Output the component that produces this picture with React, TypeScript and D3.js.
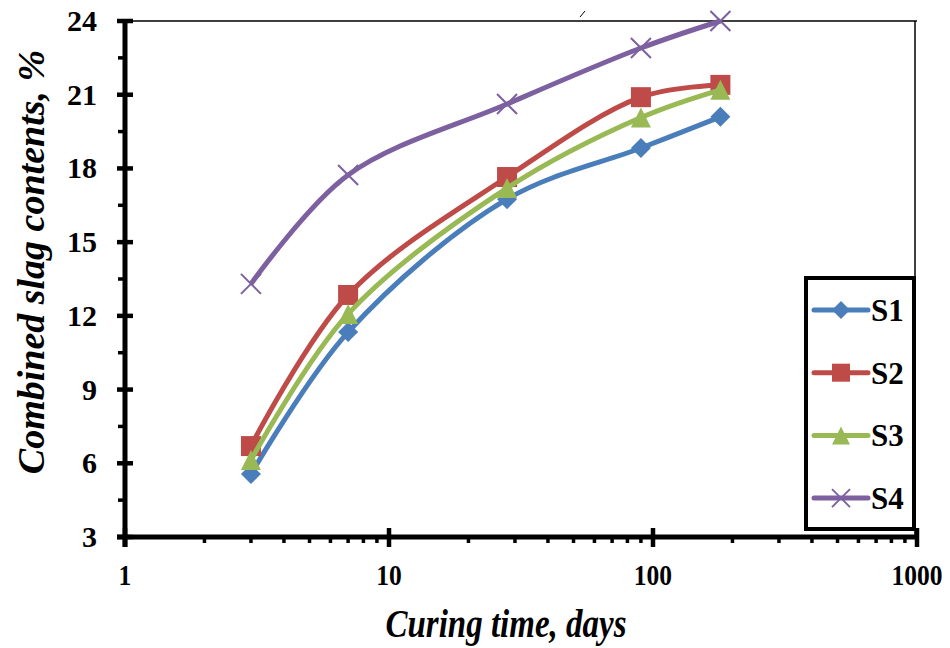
import React from "react";
import * as d3 from "d3";

const days = [3, 7, 28, 90, 180];
const s1 = [5.56, 11.34, 16.75, 18.83, 20.1];
const s2 = [6.7, 12.85, 17.65, 20.9, 21.4];
const s3 = [6.13, 12.08, 17.2, 20.07, 21.2];
const s4 = [13.3, 17.73, 20.62, 22.9, 24.0];
const seriesNames = ["S1", "S2", "S3", "S4"];
const seriesColors = ["#4A7EBB", "#BE4B48", "#98B954", "#7D60A0"];
const seriesShapes = ["diamond", "square", "triangle", "x"];
const yTicks = [3, 6, 9, 12, 15, 18, 21, 24];
const xTicks = [1, 10, 100, 1000];

const W = 950;
const H = 648;
const L = 125, R = 917, T = 21, B = 537;
const FONT = "'Times New Roman', 'Liberation Serif', serif";

function Marker({ shape, x, y, color, s = 10 }: { shape: string; x: number; y: number; color: string; s?: number }) {
  if (shape === "diamond") {
    return <path d={`M${x},${y - s}L${x + s},${y}L${x},${y + s}L${x - s},${y}Z`} fill={color} />;
  }
  if (shape === "square") {
    return <rect x={x - s} y={y - s} width={2 * s} height={2 * s} fill={color} />;
  }
  if (shape === "triangle") {
    return <path d={`M${x},${y - s}L${x + s},${y + s}L${x - s},${y + s}Z`} fill={color} />;
  }
  return (
    <g stroke={color} strokeWidth={2}>
      <line x1={x - s} y1={y - s} x2={x + s} y2={y + s} />
      <line x1={x - s} y1={y + s} x2={x + s} y2={y - s} />
    </g>
  );
}

export default function App() {
  const x = d3.scaleLog().domain([1, 1000]).range([L, R]);
  const y = d3.scaleLinear().domain([3, 24]).range([B, T]);
  const data = [s1, s2, s3, s4];
  const line = d3
    .line<number>()
    .x((_, i) => x(days[i]))
    .y((d) => y(d))
    .curve(d3.curveCatmullRom.alpha(0.5));

  const minorX: number[] = [];
  for (let dec = 1; dec < 1000; dec *= 10) for (let k = 2; k <= 9; k++) minorX.push(dec * k);
  const minorY = d3.range(4.5, 24, 3);

  return (
    <svg width={W} height={H} style={{ position: "absolute", left: 0, top: 0 }} fontFamily={FONT}>
      <rect width={W} height={H} fill="#fff" />
      {/* frame top/right thin */}
      <line x1={L} y1={T} x2={R} y2={T} stroke="#000" strokeWidth={1.5} />
      <line x1={915} y1={T} x2={915} y2={B} stroke="#000" strokeWidth={1.5} />
      <line x1={580} y1={17} x2={585} y2={11} stroke="#000" strokeWidth={1} />
      {/* series */}
      {data.map((s, si) => (
        <g key={si}>
          <path d={line(s) || ""} fill="none" stroke={seriesColors[si]} strokeWidth={5} />
          {s.map((v, i) => (
            <Marker key={i} shape={seriesShapes[si]} x={x(days[i])} y={y(v)} color={seriesColors[si]} />
          ))}
        </g>
      ))}
      {/* legend */}
      <rect x={806} y={278} width={108} height={251} fill="#fff" stroke="#000" strokeWidth={4} />
      {seriesNames.map((n, i) => {
        const ly = 310 + i * 62.7;
        return (
          <g key={n}>
            <line x1={814} y1={ly} x2={868} y2={ly} stroke={seriesColors[i]} strokeWidth={5} strokeLinecap="round" />
            <Marker shape={seriesShapes[i]} x={841} y={ly} color={seriesColors[i]} s={9} />
            <text x={871} y={ly + 11} fontSize={31} fontWeight="bold">{n}</text>
          </g>
        );
      })}
      {/* y axis */}
      <line x1={L} y1={T - 2} x2={L} y2={B + 10} stroke="#000" strokeWidth={5} />
      {yTicks.map((t) => (
        <g key={t}>
          <line x1={117} x2={133} y1={y(t)} y2={y(t)} stroke="#000" strokeWidth={4.5} />
          <text x={97} y={y(t) + 10} textAnchor="end" fontSize={30} fontWeight="bold">{t}</text>
        </g>
      ))}
      {minorY.map((t) => (
        <line key={t} x1={118} x2={L} y1={y(t)} y2={y(t)} stroke="#000" strokeWidth={3.5} />
      ))}
      {/* x axis */}
      <line x1={L - 8} y1={B} x2={R + 1} y2={B} stroke="#000" strokeWidth={5} />
      {xTicks.map((t) => (
        <g key={t}>
          <line x1={x(t)} x2={x(t)} y1={528} y2={547} stroke="#000" strokeWidth={4.5} />
          <text x={x(t)} y={585} textAnchor="middle" fontSize={30} fontWeight="bold" transform={`translate(${x(t)},0) scale(0.85,1) translate(${-x(t)},0)`}>{t}</text>
        </g>
      ))}
      {minorX.map((t) => (
        <line key={t} x1={x(t)} x2={x(t)} y1={B} y2={543} stroke="#000" strokeWidth={3.5} />
      ))}
      {/* titles */}
      <text x={506} y={0} textAnchor="middle" fontSize={33} fontWeight="bold" fontStyle="italic" transform="translate(0,637) scale(1,1.2)">Curing time, days</text>
      <text transform="translate(44,262) rotate(-90)" textAnchor="middle" fontSize={38} fontWeight="bold" fontStyle="italic">Combined slag contents, %</text>
    </svg>
  );
}
